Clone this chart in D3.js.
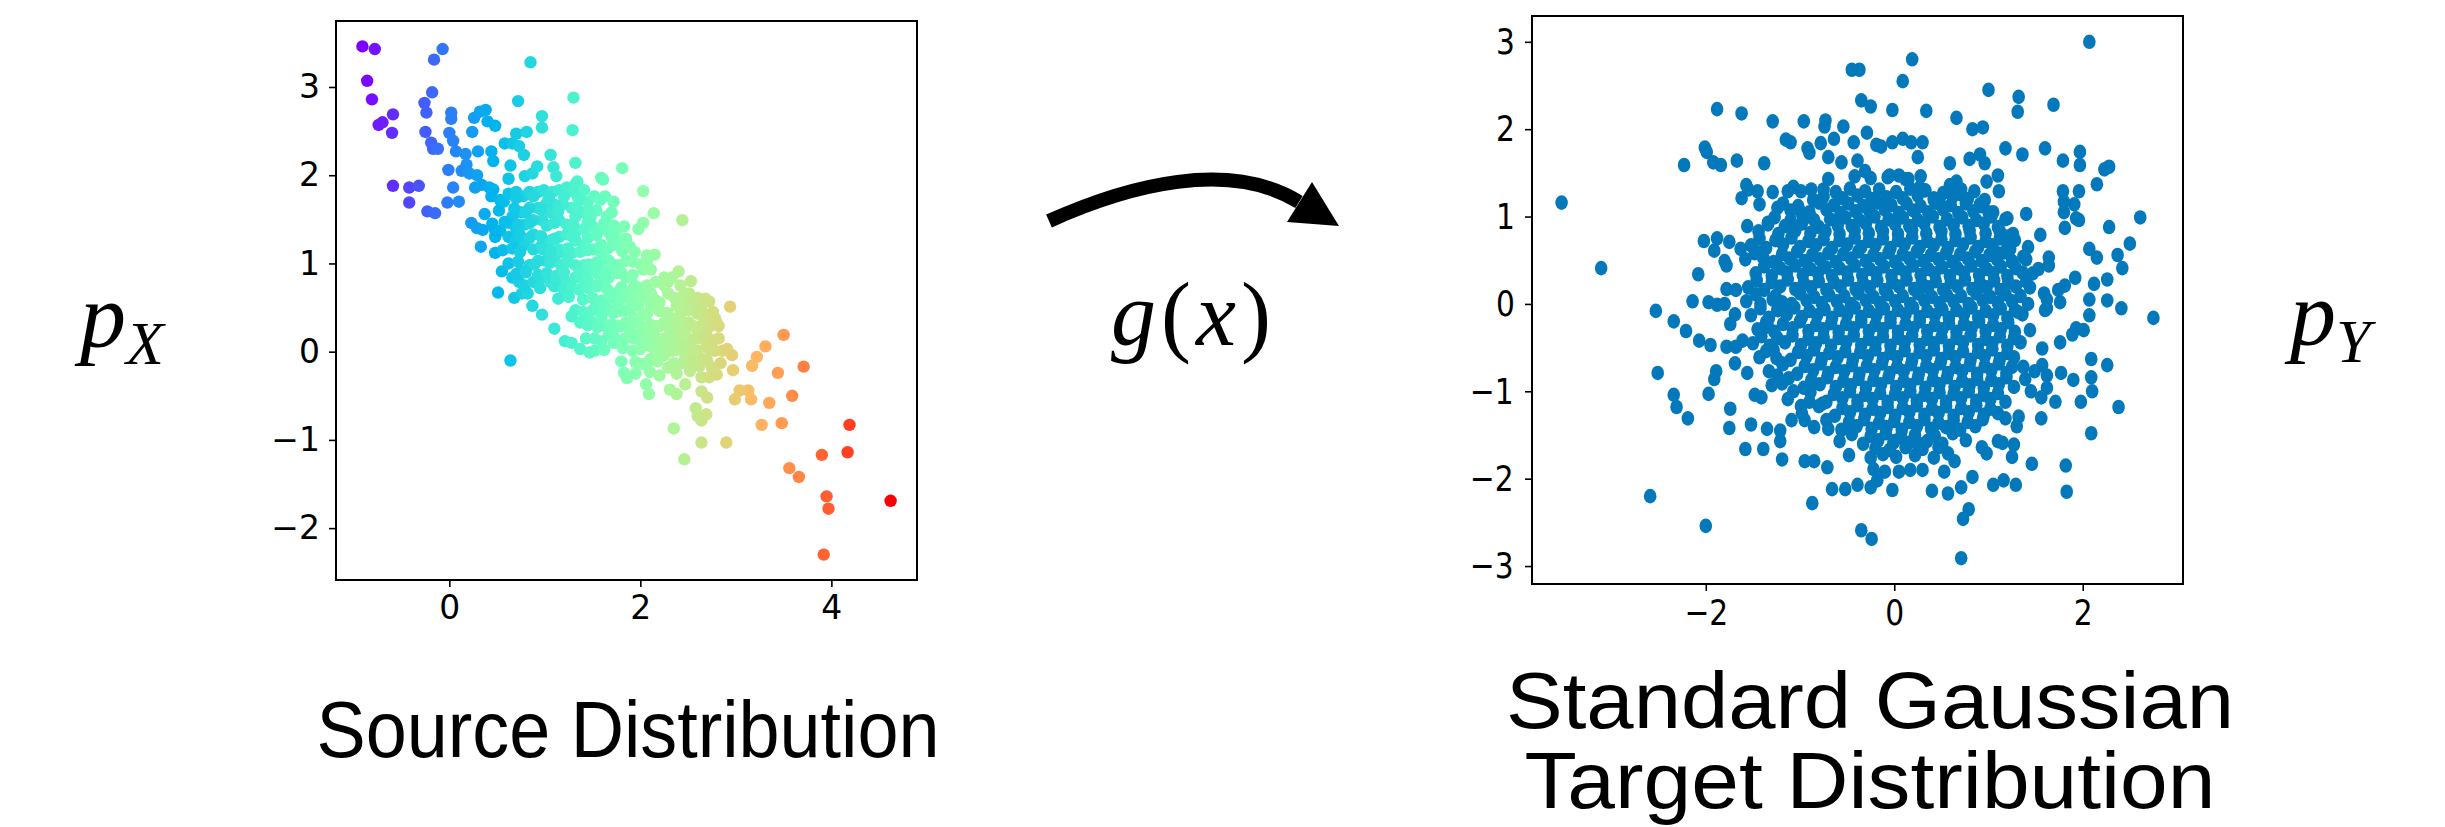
<html>
<head>
  <meta charset="utf-8">
  <style>
    body { margin: 0; background: #fff; }
    .panel .frame { fill: none; stroke: #000; stroke-width: 2px; }
    .panel .tick line { stroke: #000; stroke-width: 1.6px; }
    .panel .tick text { font-family: "DejaVu Sans", sans-serif; font-size: 33px; fill: #000; }
    .panel .domain { display: none; }
    .target .tick text { transform-box: fill-box; transform-origin: center; transform: scale(0.9, 1.1); }
    .title { font-family: "Liberation Sans", Arial, sans-serif; fill: #000; }
    .math { font-family: "Liberation Serif", "Times New Roman", serif; fill: #000; }
  </style>
</head>
<body>
<div id="chart"></div>
<script src="https://cdn.jsdelivr.net/npm/d3@7"></script>
<script>
// ---- data: source distribution (colour follows x, rainbow map) ----
var srcPoints = [
  [-0.91,3.46],[-0.78,3.43],[-0.86,3.07],[-0.81,2.86],[-0.74,2.57],[-0.70,2.60],[-0.59,2.69],[-0.60,2.48],
  [-0.59,1.88],[-0.42,1.86],[-0.32,1.88],[-0.42,1.69],[-0.23,1.59],[-0.15,1.57],[-0.16,3.31],[-0.07,3.43],
  [-0.18,2.94],[-0.26,2.82],[-0.24,2.71],[-0.25,2.49],[-0.19,2.37],[-0.17,2.30],[-0.12,2.30],[0.02,2.71],
  [0.02,2.64],[0.00,2.48],[0.04,2.39],[0.07,2.27],[-0.01,2.06],[-0.02,1.69],[0.10,1.70],[0.04,1.86],
  [0.17,2.24],[0.18,2.12],[0.24,2.49],[0.26,2.65],[0.32,2.72],[0.38,2.74],[0.40,2.61],[0.48,2.56],
  [0.30,2.27],[0.44,2.27],[0.46,2.16],[0.13,2.05],[0.21,2.02],[0.29,2.00],[0.27,1.86],[0.34,1.89],
  [0.42,1.86],[0.46,1.84],[0.44,1.76],[0.53,1.72],[0.57,1.70],[0.37,1.56],[0.23,1.46],[0.29,1.40],
  [0.35,1.38],[0.48,1.37],[0.33,1.19],[0.48,1.12],[0.55,0.91],[0.51,0.67],[0.64,-0.10],[0.68,0.61],
  [0.76,0.66],[0.82,0.66],[0.87,0.52],[0.97,0.42],[1.10,0.26],[1.21,0.12],[1.28,0.10],[1.37,0.03],
  [1.47,-0.01],[1.52,0.01],[0.62,1.96],[0.64,2.11],[0.58,2.36],[0.66,2.36],[0.73,2.33],[0.70,2.47],
  [0.81,2.49],[0.72,2.84],[0.85,3.28],[0.97,2.67],[0.97,2.54],[0.78,2.23],[0.79,1.99],[0.87,2.02],
  [0.92,2.10],[1.06,2.23],[1.09,2.09],[1.12,1.99],[1.30,2.88],[1.29,2.51],[1.32,2.14],[1.34,1.93],
  [1.59,1.97],[1.61,1.95],[1.81,2.08],[2.03,1.82],[2.14,1.57],[2.03,1.46],[1.98,1.39],[2.44,1.49],
  [2.07,1.09],[2.15,1.10],[2.40,0.91],[2.33,0.84],[2.53,0.80],[2.72,0.57],[2.94,0.51],[2.80,0.33],
  [2.96,-0.04],[2.97,-0.21],[2.86,0.01],[3.50,0.19],[3.31,0.06],[3.22,-0.06],[3.17,-0.16],[3.44,-0.24],
  [3.71,-0.17],[3.59,-0.50],[3.35,-0.58],[3.13,-0.44],[3.04,-0.44],[2.99,-0.54],[3.16,-0.54],[3.27,-0.83],
  [3.48,-0.81],[4.19,-0.83],[4.17,-1.14],[3.90,-1.17],[3.56,-1.32],[3.66,-1.42],[3.95,-1.64],[3.97,-1.78],
  [4.62,-1.69],[3.92,-2.30],[2.90,-1.03],[2.64,-1.03],[2.46,-1.22],[2.35,-0.87],[2.64,-0.78],[2.60,-0.73],
  [2.58,-0.64],[2.69,-0.71],[2.64,-0.45],[2.70,-0.52],[2.31,-0.43],[2.38,-0.48],[2.47,-0.37],[2.06,-0.37],
  [2.09,-0.48],[1.83,-0.24],[1.86,-0.30],[1.80,-0.11],[1.74,0.10],[1.72,0.10],[2.29,-0.18],[2.44,-0.13],
  [2.62,-0.16],[2.64,-0.29],[2.72,-0.29],
  // dense upper blob
  [0.62,1.79],[0.70,1.81],[0.77,1.76],[0.84,1.81],[0.93,1.81],[0.99,1.83],[1.08,1.81],[1.15,1.83],
  [1.23,1.86],[1.30,1.81],[1.37,1.72],[1.45,1.70],[1.52,1.76],[1.63,1.76],[1.72,1.70],[1.54,1.60],
  [1.65,1.53],[1.48,1.53],[1.39,1.58],[1.32,1.53],[1.28,1.63],[1.19,1.67],[1.10,1.67],[1.01,1.67],
  [0.93,1.63],[0.84,1.63],[0.75,1.58],[0.66,1.53],[0.62,1.46],[0.53,1.37],[0.62,1.30],[0.70,1.26],
  [0.79,1.21],[0.88,1.16],[0.97,1.21],[1.06,1.26],[1.15,1.30],[1.23,1.33],[1.32,1.35],[1.41,1.39],
  [1.50,1.42],[1.59,1.39],[1.67,1.35],[1.76,1.39],[1.83,1.42],[1.78,1.26],[1.72,1.21],[1.81,1.14],
  [1.89,1.19],[1.85,1.03],[1.76,0.98],[1.67,1.03],[1.59,1.12],[1.50,1.16],[1.41,1.21],[1.32,1.26],
  [1.28,1.12],[1.19,1.12],[1.10,1.07],[1.01,1.03],[0.93,1.03],[0.84,0.98],[0.75,0.91],[0.66,0.84],
  [0.73,0.79],[0.79,0.75],[0.88,0.79],[0.97,0.84],[1.06,0.79],[1.15,0.75],[1.23,0.79],[1.32,0.84],
  [1.41,0.79],[1.50,0.75],[1.59,0.79],[1.67,0.84],[1.76,0.89],[1.85,0.84],[1.32,1.90],[1.41,1.83],
  [1.06,1.58],[0.97,1.49],[0.88,1.49],[0.79,1.44],[0.70,1.39],[1.15,1.49],[1.23,1.44],[0.88,1.33],
  [1.15,1.16],[1.59,1.21],[1.50,0.93],[1.41,0.98],[1.32,0.98],[1.59,0.98],[1.67,0.93],
  [0.70,1.74],[0.88,1.76],[1.04,1.74],[1.20,1.76],[1.35,1.74],[1.58,1.72],
  [0.52,1.60],[0.68,1.62],[0.80,1.58],[0.96,1.61],[1.14,1.59],[1.34,1.62],[1.47,1.60],[1.70,1.58],
  [0.45,1.45],[0.58,1.47],[0.72,1.44],[0.84,1.46],[1.02,1.43],[1.10,1.46],[1.30,1.44],[1.45,1.47],[1.62,1.45],[1.72,1.43],
  [0.48,1.30],[0.74,1.32],[0.84,1.29],[0.96,1.31],[1.10,1.28],[1.28,1.31],[1.45,1.29],[1.54,1.32],[1.70,1.30],[1.85,1.28],
  [0.56,1.15],[0.66,1.17],[0.74,1.13],[0.98,1.16],[1.06,1.14],[1.24,1.17],[1.37,1.13],[1.45,1.15],[1.66,1.17],[1.94,1.13],
  [0.62,1.00],[0.72,1.02],[0.89,0.99],[1.06,1.01],[1.17,0.98],[1.24,1.02],[1.46,0.99],[1.54,1.01],[1.72,0.98],[1.92,1.02],[2.00,0.99],
  [0.70,0.88],[0.80,0.90],[0.93,0.87],[1.02,0.89],[1.12,0.86],[1.20,0.90],[1.36,0.88],[1.45,0.86],[1.54,0.89],[1.63,0.87],[1.80,0.90],[1.92,0.87],
  [0.95,0.72],[1.10,0.74],[1.20,0.71],[1.28,0.73],[1.36,0.70],[1.45,0.72],[1.55,0.74],[1.65,0.71],[1.80,0.73],[1.92,0.70],[2.00,0.72],
  // dense lower blob
  [1.72,0.66],[1.63,0.56],[1.54,0.52],[1.45,0.42],[1.32,0.47],[1.28,0.40],[1.37,0.33],[1.50,0.33],
  [1.59,0.38],[1.63,0.29],[1.67,0.19],[1.76,0.29],[1.85,0.33],[1.94,0.38],[1.89,0.47],[1.98,0.52],
  [2.03,0.61],[2.11,0.66],[2.07,0.75],[2.16,0.79],[2.25,0.75],[2.29,0.66],[2.20,0.56],[2.11,0.52],
  [2.03,0.42],[1.98,0.33],[1.89,0.24],[1.98,0.19],[2.07,0.24],[2.16,0.29],[2.25,0.33],[2.33,0.38],
  [2.42,0.42],[2.38,0.52],[2.47,0.56],[2.51,0.66],[2.42,0.75],[2.29,0.79],[2.60,0.61],[2.64,0.52],
  [2.69,0.42],[2.56,0.47],[2.51,0.33],[2.47,0.24],[2.38,0.19],[2.29,0.15],[2.20,0.10],[2.11,0.06],
  [2.03,0.10],[1.94,0.15],[2.11,-0.08],[2.25,-0.04],[2.33,0.01],[2.42,0.06],[2.51,0.10],[2.60,0.15],
  [2.69,0.19],[2.73,0.29],[2.82,0.29],[2.60,0.24],[2.47,-0.04],[2.60,0.01],[2.69,0.06],[2.78,0.01],
  [2.64,-0.08],[2.03,0.93],[1.94,0.75],[1.85,0.66],[1.76,0.56],[1.85,0.47],[1.67,0.47],[1.59,0.47],
  [1.94,0.56],[2.07,1.03],[2.11,0.93],[1.59,0.12],[1.43,0.15],[2.78,0.38],[2.82,0.15],[2.91,0.03],
  [2.75,-0.18],[2.62,0.56],[2.25,0.84],[2.09,-0.11],
  [1.14,0.60],[1.25,0.62],[1.40,0.59],[1.50,0.61],[1.60,0.58],[1.68,0.62],[1.80,0.60],[1.90,0.58],[2.00,0.62],[2.15,0.59],[2.36,0.61],[2.45,0.63],[2.55,0.58],[2.68,0.60],
  [1.40,0.45],[1.50,0.47],[1.72,0.44],[1.80,0.46],[2.07,0.43],[2.20,0.46],[2.28,0.44],[2.50,0.47],[2.60,0.43],[2.76,0.45],
  [1.45,0.30],[1.55,0.28],[1.70,0.31],[1.80,0.29],[1.90,0.32],[2.02,0.28],[2.10,0.31],[2.20,0.29],[2.30,0.27],[2.40,0.31],[2.56,0.29],[2.66,0.32],
  [1.52,0.15],[1.72,0.17],[1.82,0.14],[1.90,0.16],[2.06,0.13],[2.15,0.17],[2.25,0.15],[2.34,0.12],[2.43,0.16],[2.55,0.14],[2.66,0.17],[2.76,0.13],
  [1.62,0.02],[1.82,0.04],[1.92,0.01],[2.00,0.03],[2.16,0.00],[2.24,0.04],[2.38,0.02],[2.48,0.05],[2.56,-0.01],[2.72,0.03],
  [1.95,-0.12],[2.02,-0.14],[2.18,-0.11],[2.35,-0.13],[2.55,-0.12],[2.70,-0.10],[2.84,-0.13],
  [1.95,-0.25],[2.10,-0.23],[2.20,-0.27],[2.38,-0.25],[2.52,-0.22],[2.80,-0.26]
];

// ---- data: standard gaussian target ----
var tgtOuter = [
  [-3.53,1.16],[-3.11,0.41],[-2.59,-2.20],[-2.00,-2.54],[-0.87,-2.28],[-0.35,-2.59],[-0.24,-2.69],[0.71,-2.91],
  [0.73,-2.46],[0.79,-2.35],[2.07,3.00],[0.19,2.80],[-0.45,2.68],[-0.37,2.68],[0.09,2.55],[1.00,2.45],
  [1.32,2.37],[1.31,2.20],[1.69,2.28],[-0.35,2.33],[-0.25,2.26],[-0.02,2.22],[0.34,2.21],[-1.88,2.23],
  [-1.62,2.18],[-1.29,2.09],[-0.96,2.09],[-0.73,2.10],[-0.74,2.03],[0.66,2.13],[-0.54,2.03],[-0.29,1.96],
  [0.83,2.00],[0.94,2.02],[-2.23,1.59],[-2.01,1.79],[-1.99,1.74],[-1.92,1.62],[-1.84,1.59],[-1.67,1.64],
  [-1.38,1.61],[-1.15,1.88],[-1.10,1.85],[-0.92,1.78],[-0.90,1.73],[-0.78,1.84],[-0.70,1.68],[-0.64,1.89],
  [-0.56,1.62],[-0.43,1.85],[-0.39,1.64],[-0.31,1.52],[-0.19,1.82],[-0.14,1.80],[-0.02,1.85],[0.09,1.89],
  [0.18,1.85],[0.30,1.85],[0.25,1.68],[0.80,1.66],[0.91,1.71],[0.96,1.61],[1.18,1.78],[1.36,1.71],
  [1.60,1.78],[1.79,1.64],[1.97,1.74],[1.97,1.59],[2.23,1.54],[2.28,1.57],[2.15,1.37],[2.61,0.99],
  [2.28,0.88],[2.50,0.69],[2.37,0.56],[2.42,0.41],[2.15,0.53],[2.07,0.63],[2.12,0.23],[2.26,0.28],
  [2.41,-0.05],[2.75,-0.16],[2.26,0.04],[2.07,0.05],[2.07,-0.13],[1.93,-0.28],[1.89,-0.35],[2.01,-0.30],
  [2.09,-0.63],[2.09,-0.84],[2.10,-1.00],[2.26,-0.70],[2.38,-1.18],[1.98,-1.12],[2.09,-1.48],[1.82,-1.85],
  [1.83,-2.15],[1.46,-1.83],[1.71,-1.12],[1.90,-0.87],[1.77,-0.79],[1.76,-0.44],[1.57,-0.51],[1.60,-0.07],
  [1.62,0.05],[1.44,-0.30],[1.31,-0.09],[1.29,-2.07],[1.16,-2.02],[1.05,-2.07],[0.83,-1.98],[0.57,-2.17],
  [0.40,-2.14],[0.53,-1.92],[0.71,-2.10],[-0.02,-2.13],[0.05,-1.92],[0.17,-1.90],[0.25,-1.59],[0.00,-1.57],
  [0.15,-1.59],[-0.39,-2.07],[-0.25,-2.10],[-0.66,-2.12],[-0.52,-2.12],[-0.71,-1.87],[-0.95,-1.80],[-0.85,-1.80],
  [-1.19,-1.78],[-1.58,-1.66],[-1.39,-1.66],[-1.75,-1.42],[-1.74,-1.20],[-1.52,-1.38],[-1.35,-1.43],[-1.21,-1.45],
  [-1.21,-1.57],[-1.97,-1.03],[-2.34,-1.04],[-2.31,-1.18],[-2.19,-1.31],[-2.51,-0.79],[-1.91,-0.86],[-1.89,-0.77],
  [-1.69,-0.68],[-1.56,-0.79],[-1.48,-1.04],[-1.41,-1.07],[-2.53,-0.08],[-2.34,-0.20],[-2.21,-0.31],[-2.07,-0.42],
  [-1.95,-0.47],[-2.14,0.03],[-1.97,0.02],[-1.88,-0.01],[-2.08,0.34],[-2.02,0.72],[-1.91,0.61],[-1.88,0.75],
  [-1.75,0.71],[-1.80,0.49],[-1.78,0.44],[-1.63,0.63],[-1.48,0.58],[-1.39,0.53],[-1.78,0.17],[-1.68,0.16],
  [-1.80,0.00],[-1.74,-0.23],[-1.69,-0.12],[-1.78,-0.49],[-1.68,-0.49],[-1.61,-0.42],[-1.57,1.36],[-1.55,1.31],
  [-1.56,0.89],[-1.62,1.21],[-1.45,1.29],[-1.43,1.14],[-1.34,0.93],[-1.29,1.28],[-1.24,1.10],[-1.13,1.29],
  [-1.07,1.34],[-0.99,1.29],[-0.99,1.05],[-0.97,0.96],[-0.85,0.96],[-0.86,1.19],[-0.75,1.31],[-0.70,1.43],
  [-1.42,0.00],[-1.34,-0.26],[-1.36,-0.54],[-1.25,-0.62],[-1.29,0.05],[-1.19,0.02],[-1.24,-0.07],[-1.19,-0.68],
  [-1.24,-0.82],[-1.19,-0.91],[-1.07,-1.00],[-0.99,-1.17],[-0.90,-1.12],[-1.09,-1.33],[-0.95,-1.33],[-0.76,-1.14],
  [-0.70,-1.43],[0.47,-1.64],[0.57,-1.71],[0.64,-1.80],[0.93,-1.64],[0.98,-1.71],[1.10,-1.57],[1.15,-1.59],
  [1.27,-1.61],[1.25,-1.75],[1.30,-1.40],[1.32,-1.29],[1.18,-1.31],[1.45,-1.00],[1.56,-1.07],[1.56,-1.31],
  [1.37,-0.72],[1.39,-0.86],[1.49,-0.77],[1.57,-0.70],[1.62,-0.82],[1.62,-0.96],[1.40,0.26],[1.44,0.19],
  [1.47,0.35],[1.53,0.40],[1.64,0.44],[1.59,0.12],[1.62,-0.05],[1.76,0.02],[1.55,0.79],[1.64,0.53],
  [1.40,1.03],[1.42,0.65],[1.40,0.51],[1.80,1.05],[1.81,0.87],[1.93,0.98],[1.96,0.96],[1.79,1.29],
  [1.96,1.29],[1.91,1.14],[1.80,1.17],[1.92,0.30],[1.81,0.21],[1.74,0.16],[0.98,1.40],[1.10,1.47],
  [1.11,1.29],[1.05,1.05],[1.20,0.98],[0.91,1.14],[0.96,1.19],[1.20,0.77],[1.23,0.63],[1.10,0.58],
  [1.25,0.49],[1.37,0.54],[-0.07,1.45],[0.05,1.47],[0.15,1.43],[0.27,1.33],[0.42,1.19],[0.49,1.14],
  [0.59,1.61],[0.66,1.40],[0.69,1.26],[0.59,1.36]
];
var tgtCore = [
  [-0.42,1.46],[-0.25,1.44],[-0.05,1.47],[0.12,1.43],[0.28,1.46],
  [-0.88,1.31],[-0.62,1.28],[-0.47,1.32],[-0.31,1.29],[-0.16,1.31],[0.02,1.28],[0.17,1.32],[0.33,1.30],[0.52,1.27],[0.71,1.31],[0.85,1.29],
  [-1.18,1.15],[-1.02,1.12],[-0.80,1.16],[-0.64,1.13],[-0.49,1.15],[-0.33,1.12],[-0.18,1.16],[-0.03,1.13],[0.13,1.15],[0.28,1.12],[0.44,1.16],[0.60,1.13],[0.76,1.15],[0.92,1.12],
  [-1.27,0.99],[-1.10,0.96],[-0.93,1.00],[-0.68,0.97],[-0.52,0.99],[-0.37,0.96],[-0.21,1.00],[-0.06,0.97],[0.09,0.99],[0.25,0.96],[0.41,1.00],[0.56,0.97],[0.72,0.99],[0.87,0.96],[1.03,1.00],[1.18,0.97],
  [-1.44,0.83],[-1.23,0.80],[-1.05,0.84],[-0.89,0.81],[-0.73,0.83],[-0.58,0.80],[-0.42,0.84],[-0.27,0.81],[-0.12,0.83],[0.04,0.80],[0.19,0.84],[0.34,0.81],[0.50,0.83],[0.65,0.80],[0.80,0.84],[0.97,0.81],[1.12,0.83],[1.26,0.80],
  [-1.52,0.67],[-1.36,0.64],[-1.18,0.68],[-1.00,0.65],[-0.83,0.67],[-0.66,0.64],[-0.50,0.68],[-0.35,0.65],[-0.20,0.67],[-0.04,0.64],[0.11,0.68],[0.27,0.65],[0.42,0.67],[0.57,0.64],[0.73,0.68],[0.89,0.65],[1.04,0.67],[1.20,0.64],
  [-1.58,0.51],[-1.28,0.48],[-1.11,0.52],[-0.95,0.49],[-0.79,0.51],[-0.62,0.48],[-0.46,0.52],[-0.30,0.49],[-0.15,0.51],[0.01,0.48],[0.16,0.52],[0.31,0.49],[0.47,0.51],[0.62,0.48],[0.78,0.52],[0.93,0.49],[1.09,0.51],[1.25,0.48],
  [-1.47,0.35],[-1.30,0.32],[-1.14,0.36],[-0.97,0.33],[-0.81,0.35],[-0.66,0.32],[-0.50,0.36],[-0.34,0.33],[-0.19,0.35],[-0.03,0.32],[0.12,0.36],[0.28,0.33],[0.43,0.35],[0.59,0.32],[0.74,0.36],[0.90,0.33],[1.05,0.35],[1.20,0.32],[1.36,0.36],
  [-1.55,0.19],[-1.38,0.16],[-1.21,0.20],[-1.05,0.17],[-0.88,0.19],[-0.72,0.16],[-0.57,0.20],[-0.41,0.17],[-0.26,0.19],[-0.10,0.16],[0.05,0.20],[0.21,0.17],[0.36,0.19],[0.52,0.16],[0.67,0.20],[0.83,0.17],[0.98,0.19],[1.13,0.16],[1.29,0.20],
  [-1.57,0.03],[-1.09,0.00],[-0.93,0.04],[-0.77,0.01],[-0.61,0.03],[-0.46,0.00],[-0.30,0.04],[-0.15,0.01],[0.01,0.03],[0.17,0.00],[0.32,0.04],[0.48,0.01],[0.63,0.03],[0.79,0.00],[0.94,0.04],[1.10,0.01],[1.25,0.03],[1.42,0.00],
  [-1.52,-0.13],[-1.33,-0.16],[-1.14,-0.12],[-0.98,-0.15],[-0.82,-0.13],[-0.66,-0.16],[-0.50,-0.12],[-0.35,-0.15],[-0.19,-0.13],[-0.04,-0.16],[0.12,-0.12],[0.27,-0.15],[0.43,-0.13],[0.58,-0.16],[0.74,-0.12],[0.89,-0.15],[1.05,-0.13],[1.20,-0.16],[1.36,-0.12],
  [-1.45,-0.29],[-1.27,-0.32],[-1.08,-0.28],[-0.91,-0.31],[-0.75,-0.29],[-0.59,-0.32],[-0.43,-0.28],[-0.27,-0.31],[-0.12,-0.29],[0.04,-0.32],[0.20,-0.28],[0.35,-0.31],[0.51,-0.29],[0.66,-0.32],[0.82,-0.28],[0.97,-0.31],[1.13,-0.29],[1.28,-0.32],
  [-1.50,-0.45],[-1.32,-0.48],[-1.16,-0.44],[-0.99,-0.47],[-0.83,-0.45],[-0.67,-0.48],[-0.51,-0.44],[-0.35,-0.47],[-0.20,-0.45],[-0.04,-0.48],[0.11,-0.44],[0.27,-0.47],[0.42,-0.45],[0.58,-0.48],[0.73,-0.44],[0.89,-0.47],[1.04,-0.45],[1.20,-0.48],[1.34,-0.44],
  [-1.43,-0.61],[-1.10,-0.64],[-0.93,-0.60],[-0.77,-0.63],[-0.60,-0.61],[-0.44,-0.64],[-0.28,-0.60],[-0.12,-0.63],[0.03,-0.61],[0.19,-0.64],[0.34,-0.60],[0.50,-0.63],[0.65,-0.61],[0.81,-0.64],[0.96,-0.60],[1.12,-0.63],[1.27,-0.61],
  [-1.33,-0.77],[-1.03,-0.80],[-0.86,-0.76],[-0.70,-0.79],[-0.53,-0.77],[-0.37,-0.80],[-0.21,-0.76],[-0.05,-0.79],[0.10,-0.77],[0.26,-0.80],[0.41,-0.76],[0.57,-0.79],[0.72,-0.77],[0.88,-0.80],[1.03,-0.76],[1.19,-0.79],
  [-1.30,-0.93],[-0.96,-0.96],[-0.79,-0.92],[-0.62,-0.95],[-0.46,-0.93],[-0.30,-0.96],[-0.14,-0.92],[0.02,-0.95],[0.17,-0.93],[0.33,-0.96],[0.48,-0.92],[0.64,-0.95],[0.80,-0.93],[0.95,-0.96],[1.11,-0.92],[1.27,-0.95],
  [-1.13,-1.09],[-0.72,-1.12],[-0.55,-1.08],[-0.39,-1.11],[-0.23,-1.09],[-0.07,-1.12],[0.09,-1.08],[0.24,-1.11],[0.40,-1.09],[0.55,-1.12],[0.71,-1.08],[0.87,-1.11],[1.02,-1.09],[1.18,-1.12],
  [-0.98,-1.25],[-0.63,-1.28],[-0.47,-1.24],[-0.31,-1.27],[-0.15,-1.25],[0.01,-1.28],[0.16,-1.24],[0.32,-1.27],[0.47,-1.25],[0.63,-1.28],[0.79,-1.24],[0.95,-1.27],[1.10,-1.25],
  [-0.85,-1.41],[-0.56,-1.44],[-0.40,-1.40],[-0.24,-1.43],[-0.08,-1.41],[0.08,-1.44],[0.24,-1.40],[0.39,-1.43],[0.55,-1.41],[0.70,-1.44],[0.86,-1.40],
  [-0.58,-1.57],[-0.33,-1.60],[-0.17,-1.56],[-0.01,-1.59],[0.35,-1.57],[0.51,-1.60],[0.76,-1.56],
  [-0.48,-1.73],[-0.25,-1.76],[-0.12,-1.72],[0.02,-1.75],[0.22,-1.73],[0.42,-1.76],
  [-0.22,-1.89],[-0.10,-1.92],[0.30,-1.90],[-0.18,-2.02]
];
var tgtFill = [
  [-0.75,1.23],[-0.55,1.21],[-0.39,1.24],[-0.24,1.20],[-0.08,1.22],[0.09,1.21],[0.25,1.24],[0.42,1.21],[0.62,1.23],[0.78,1.20],
  [-1.10,1.07],[-0.90,1.05],[-0.72,1.08],[-0.57,1.04],[-0.41,1.06],[-0.26,1.05],[-0.10,1.08],[0.05,1.04],[0.20,1.07],[0.36,1.05],[0.52,1.08],[0.68,1.04],[0.84,1.06],[1.00,1.05],
  [-1.34,0.91],[-1.16,0.89],[-0.98,0.92],[-0.80,0.88],[-0.60,0.90],[-0.45,0.89],[-0.30,0.92],[-0.14,0.88],[0.01,0.91],[0.16,0.89],[0.32,0.92],[0.48,0.88],[0.63,0.90],[0.79,0.89],[0.95,0.92],[1.10,0.88],
  [-1.43,0.75],[-1.26,0.73],[-1.09,0.76],[-0.91,0.72],[-0.75,0.74],[-0.58,0.73],[-0.42,0.76],[-0.27,0.72],[-0.12,0.75],[0.04,0.73],[0.19,0.76],[0.35,0.72],[0.50,0.74],[0.65,0.73],[0.81,0.76],[0.97,0.72],[1.12,0.75],[1.28,0.73],
  [-1.45,0.59],[-1.19,0.57],[-1.03,0.60],[-0.87,0.56],[-0.70,0.58],[-0.54,0.57],[-0.38,0.60],[-0.22,0.56],[-0.06,0.59],[0.09,0.57],[0.24,0.60],[0.39,0.56],[0.55,0.58],[0.70,0.57],[0.86,0.60],[1.01,0.56],[1.17,0.59],
  [-1.38,0.43],[-1.21,0.41],[-1.05,0.44],[-0.89,0.40],[-0.73,0.42],[-0.58,0.41],[-0.42,0.44],[-0.26,0.40],[-0.11,0.43],[0.05,0.41],[0.20,0.44],[0.36,0.40],[0.51,0.42],[0.67,0.41],[0.82,0.44],[0.98,0.40],[1.13,0.43],[1.29,0.41],
  [-1.46,0.27],[-1.30,0.25],[-1.13,0.28],[-0.96,0.24],[-0.80,0.26],[-0.64,0.25],[-0.49,0.28],[-0.33,0.24],[-0.18,0.27],[-0.02,0.25],[0.13,0.28],[0.29,0.24],[0.44,0.26],[0.60,0.25],[0.75,0.28],[0.91,0.24],[1.06,0.27],[1.21,0.25],
  [-1.47,0.11],[-1.26,0.09],[-1.00,0.12],[-0.85,0.08],[-0.69,0.10],[-0.53,0.09],[-0.38,0.12],[-0.22,0.08],[-0.07,0.11],[0.09,0.09],[0.25,0.12],[0.40,0.08],[0.56,0.10],[0.71,0.09],[0.87,0.12],[1.02,0.08],[1.18,0.11],[1.34,0.09],
  [-1.42,-0.05],[-1.24,-0.07],[-1.06,-0.04],[-0.90,-0.08],[-0.74,-0.06],[-0.58,-0.07],[-0.42,-0.04],[-0.27,-0.08],[-0.11,-0.05],[0.04,-0.07],[0.20,-0.04],[0.35,-0.08],[0.51,-0.06],[0.66,-0.07],[0.82,-0.04],[0.97,-0.08],[1.13,-0.05],[1.28,-0.07],
  [-1.36,-0.21],[-1.18,-0.23],[-1.00,-0.20],[-0.83,-0.24],[-0.67,-0.22],[-0.51,-0.23],[-0.35,-0.20],[-0.20,-0.24],[-0.04,-0.21],[0.12,-0.23],[0.27,-0.20],[0.43,-0.24],[0.58,-0.22],[0.74,-0.23],[0.90,-0.20],[1.05,-0.24],[1.21,-0.21],
  [-1.41,-0.37],[-1.24,-0.39],[-1.08,-0.36],[-0.91,-0.40],[-0.75,-0.38],[-0.59,-0.39],[-0.43,-0.36],[-0.27,-0.40],[-0.12,-0.37],[0.04,-0.39],[0.19,-0.36],[0.35,-0.40],[0.50,-0.38],[0.66,-0.39],[0.81,-0.36],[0.97,-0.40],[1.12,-0.37],[1.27,-0.39],
  [-1.28,-0.53],[-1.02,-0.55],[-0.85,-0.52],[-0.69,-0.56],[-0.52,-0.54],[-0.36,-0.55],[-0.20,-0.52],[-0.04,-0.56],[0.11,-0.53],[0.27,-0.55],[0.42,-0.52],[0.58,-0.56],[0.73,-0.54],[0.89,-0.55],[1.04,-0.52],[1.20,-0.56],
  [-1.18,-0.69],[-0.95,-0.71],[-0.78,-0.68],[-0.62,-0.72],[-0.45,-0.70],[-0.29,-0.71],[-0.13,-0.68],[0.03,-0.72],[0.18,-0.69],[0.34,-0.71],[0.49,-0.68],[0.65,-0.72],[0.80,-0.70],[0.96,-0.71],[1.11,-0.68],[1.25,-0.72],
  [-1.12,-0.85],[-0.88,-0.87],[-0.71,-0.84],[-0.54,-0.88],[-0.38,-0.86],[-0.22,-0.87],[-0.06,-0.84],[0.10,-0.88],[0.25,-0.85],[0.41,-0.87],[0.56,-0.84],[0.72,-0.88],[0.88,-0.86],[1.03,-0.87],[1.19,-0.84],
  [-0.89,-1.01],[-0.64,-1.03],[-0.47,-1.00],[-0.31,-1.04],[-0.15,-1.02],[0.01,-1.03],[0.17,-1.00],[0.32,-1.04],[0.48,-1.01],[0.63,-1.03],[0.79,-1.00],[0.95,-1.04],[1.10,-1.02],
  [-0.80,-1.17],[-0.55,-1.19],[-0.39,-1.16],[-0.23,-1.20],[-0.07,-1.18],[0.09,-1.19],[0.24,-1.16],[0.40,-1.20],[0.55,-1.17],[0.71,-1.19],[0.87,-1.16],[1.02,-1.20],
  [-0.72,-1.33],[-0.48,-1.35],[-0.32,-1.32],[-0.16,-1.36],[0.00,-1.34],[0.16,-1.35],[0.32,-1.32],[0.47,-1.36],[0.63,-1.33],[0.78,-1.35],[0.94,-1.32],
  [-0.45,-1.49],[-0.25,-1.51],[-0.09,-1.48],[0.07,-1.52],[0.22,-1.50],[0.43,-1.51],[0.62,-1.48],
  [-0.20,-1.65],[-0.05,-1.67],[0.12,-1.64],[0.30,-1.66]
];

var srcXTicks = [0, 2, 4],
    srcYTicks = [-2, -1, 0, 1, 2, 3],
    tgtXTicks = [-2, 0, 2],
    tgtYTicks = [-3, -2, -1, 0, 1, 2, 3];

var W = 2445, H = 827;

var svg = d3.select('#chart').append('svg')
  .attr('width', W)
  .attr('height', H);

svg.append('rect').attr('width', W).attr('height', H).attr('fill', '#fff');

// matplotlib style autoscale: data extent plus 5% margin
function padded(vals) {
  var e = d3.extent(vals), m = (e[1] - e[0]) * 0.05;
  return [e[0] - m, e[1] + m];
}

// matplotlib 'rainbow' colormap
function rainbow(t) {
  var r = Math.min(1, Math.abs(2 * t - 0.5)),
      g = Math.sin(Math.PI * t),
      b = Math.cos(Math.PI * t / 2);
  return d3.rgb(r * 255, g * 255, b * 255).formatHex();
}

function panel(cls, pts, box, xTicks, yTicks) {
  var x = d3.scaleLinear().domain(padded(pts.map(function (d) { return d[0]; }))).range([box.x0, box.x1]),
      y = d3.scaleLinear().domain(padded(pts.map(function (d) { return d[1]; }))).range([box.y1, box.y0]),
      g = svg.append('g').attr('class', 'panel ' + cls);

  g.append('g')
    .attr('transform', 'translate(0,' + box.y1 + ')')
    .call(d3.axisBottom(x).tickValues(xTicks).tickSize(7).tickPadding(9).tickFormat(d3.format('d')));
  g.append('g')
    .attr('transform', 'translate(' + box.x0 + ',0)')
    .call(d3.axisLeft(y).tickValues(yTicks).tickSize(7).tickPadding(9).tickFormat(d3.format('d')));

  return { g: g, x: x, y: y, box: box };
}

// ---- left: source ----
var left = panel('source', srcPoints, { x0: 336, x1: 917, y0: 21, y1: 580 }, srcXTicks, srcYTicks);
var colour = d3.scaleLinear().domain(d3.extent(srcPoints, function (d) { return d[0]; })).range([0, 1]);

left.g.append('g').selectAll('circle')
  .data(srcPoints)
  .join('circle')
    .attr('cx', function (d) { return left.x(d[0]); })
    .attr('cy', function (d) { return left.y(d[1]); })
    .attr('r', 6.2)
    .attr('fill', function (d) { return rainbow(colour(d[0])); });

left.g.append('rect').attr('class', 'frame')
  .attr('x', 336).attr('y', 21).attr('width', 917 - 336).attr('height', 580 - 21);

// ---- right: target ----
var tgtPoints = tgtOuter.concat(tgtCore, tgtFill);
var right = panel('target', tgtPoints, { x0: 1532, x1: 2183, y0: 16, y1: 584 }, tgtXTicks, tgtYTicks);

right.g.append('g').selectAll('ellipse')
  .data(tgtPoints)
  .join('ellipse')
    .attr('cx', function (d) { return right.x(d[0]); })
    .attr('cy', function (d) { return right.y(d[1]); })
    .attr('rx', 6.3)
    .attr('ry', 7.3)
    .attr('fill', '#0379bb');

right.g.append('rect').attr('class', 'frame')
  .attr('x', 1532).attr('y', 16).attr('width', 2183 - 1532).attr('height', 584 - 16);

// ---- titles ----
function title(txt, cx, base, len, size) {
  svg.append('text').attr('class', 'title')
    .attr('x', cx).attr('y', base)
    .attr('text-anchor', 'middle')
    .attr('font-size', size)
    .attr('textLength', len)
    .attr('lengthAdjust', 'spacingAndGlyphs')
    .text(txt);
}
title('Source Distribution', 628, 757, 623, 80);
title('Standard Gaussian', 1870, 728, 728, 80);
title('Target Distribution', 1870, 808, 691, 80);

// ---- math labels ----
function mathLabel(x, base, main, sub) {
  var t = svg.append('text').attr('class', 'math')
    .attr('x', x).attr('y', base)
    .attr('font-style', 'italic')
    .attr('font-size', 92);
  t.append('tspan').text(main);
  t.append('tspan').attr('font-size', 62).attr('dy', 17).text(sub);
}
mathLabel(80, 347, 'p', 'X');
mathLabel(2290, 345, 'p', 'Y');

var gx = svg.append('text').attr('class', 'math')
  .attr('x', 1191).attr('y', 345)
  .attr('text-anchor', 'middle')
  .attr('font-size', 90)
  .attr('textLength', 160)
  .attr('lengthAdjust', 'spacing');
gx.append('tspan').attr('font-style', 'italic').text('g');
gx.append('tspan').text('(');
gx.append('tspan').attr('font-style', 'italic').text('x');
gx.append('tspan').text(')');

// ---- curved arrow ----
var arrow = { p0: [1049, 221], c1: [1129, 185], c2: [1229, 159], p1: [1299, 202], tip: [1339, 226], b1: [1312, 182], b2: [1287, 222] };
var ap = d3.path();
ap.moveTo(arrow.p0[0], arrow.p0[1]);
ap.bezierCurveTo(arrow.c1[0], arrow.c1[1], arrow.c2[0], arrow.c2[1], arrow.p1[0], arrow.p1[1]);
svg.append('path').attr('d', ap.toString())
  .attr('fill', 'none').attr('stroke', '#000').attr('stroke-width', 14);
svg.append('path')
  .attr('d', 'M' + [arrow.tip, arrow.b1, arrow.b2].map(function (p) { return p.join(','); }).join('L') + 'Z')
  .attr('fill', '#000');
</script>
</body>
</html>
